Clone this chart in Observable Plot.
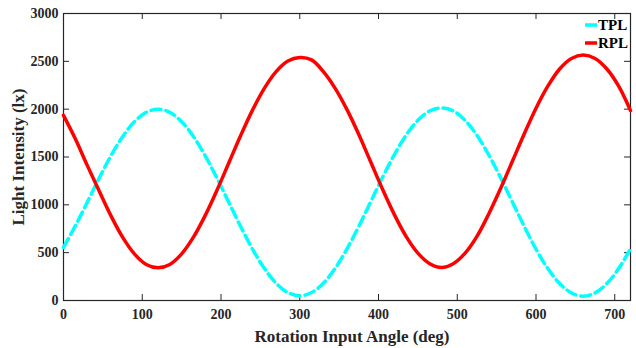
<!DOCTYPE html>
<html>
<head>
<meta charset="utf-8">
<script src="https://cdn.jsdelivr.net/npm/d3@7"></script>
<script src="https://cdn.jsdelivr.net/npm/@observablehq/plot@0.6"></script>
<style>
  body { margin: 0; background: #fff; }
  #chart svg { display: block; }
</style>
</head>
<body>
<div id="chart"></div>
<script>
const angles = [0,15,30,45,60,75,90,105,120,135,150,165,180,195,210,225,240,255,270,285,300,315,330,345,360,
  375,390,405,420,435,450,465,480,495,510,525,540,555,570,585,600,615,630,645,660,675,690,705,720];
const tpl = [555,780,1025,1275,1510,1712,1868,1966,2000,1967,1869,1714,1512,1277,1025,773,538,336,181,83,48,83,181,336,540,
  775,1030,1285,1522,1727,1883,1981,2012,1981,1883,1727,1522,1285,1030,775,537,334,177,79,45,79,177,334,540];
const rpl = [1935,1690,1415,1150,890,662,487,377,342,377,487,662,890,1155,1440,1725,1990,2218,2393,2503,2540,2515,2393,2218,1995,
  1735,1450,1165,900,670,495,385,345,385,495,670,905,1170,1455,1740,2010,2240,2420,2530,2565,2530,2420,2240,1985];
const xTicks = [0,100,200,300,400,500,600,700];
const yTicks = [0,500,1000,1500,2000,2500,3000];
const seriesNames = ["TPL", "RPL"];
const seriesColors = ["#00FFFF", "#FF0000"];

const tplData = angles.map((a, i) => ({angle: a, value: tpl[i]}));
const rplData = angles.map((a, i) => ({angle: a, value: rpl[i]}));

const W = 636, H = 348;
const mL = 63, mR = 6, mT = 13, mB = 48;
const pw = W - mL - mR, ph = H - mT - mB;
const tk = 6;
const font = "Liberation Serif, Times New Roman, serif";
const fmt = d3.format("d");

const chart = Plot.plot({
  width: W, height: H,
  marginLeft: mL, marginRight: mR, marginTop: mT, marginBottom: mB,
  style: {fontFamily: font, fontWeight: "bold", fontSize: "14px", color: "#262626", background: "#fff"},
  x: {domain: [0, 720]},
  y: {domain: [0, 3000]},
  marks: [
    Plot.axisX(xTicks, {tickSize: 0, tickPadding: 9, label: null, tickFormat: fmt, fontSize: 14, fontWeight: "bold"}),
    Plot.axisY(yTicks, {tickSize: 0, tickPadding: 5, label: null, tickFormat: fmt, fontSize: 14, fontWeight: "bold"}),
    Plot.tickX(xTicks, {x: d => d, insetTop: ph - tk, stroke: "#262626"}),
    Plot.tickX(xTicks, {x: d => d, insetBottom: ph - tk, stroke: "#262626"}),
    Plot.tickY(yTicks, {y: d => d, insetRight: pw - tk, stroke: "#262626"}),
    Plot.tickY(yTicks, {y: d => d, insetLeft: pw - tk, stroke: "#262626"}),
    Plot.frame({stroke: "#262626", strokeWidth: 1.2}),
    Plot.line(tplData, {x: "angle", y: "value", stroke: seriesColors[0], strokeWidth: 3.5, strokeDasharray: "10,5", curve: "catmull-rom"}),
    Plot.line(rplData, {x: "angle", y: "value", stroke: seriesColors[1], strokeWidth: 3.5, curve: "catmull-rom"}),
    Plot.text(["Rotation Input Angle (deg)"], {frameAnchor: "bottom", dy: 36, dx: 5, fontSize: 17, fontWeight: "bold", fill: "#262626", textAnchor: "middle", lineAnchor: "middle"}),
    Plot.text(["Light Intensity (lx)"], {frameAnchor: "left", dx: -45, rotate: -90, fontSize: 17, fontWeight: "bold", fill: "#262626", textAnchor: "middle", lineAnchor: "middle"})
  ]
});

document.getElementById("chart").appendChild(chart);

// legend (inside the axes, top-right)
const svg = d3.select(chart);
const lg = svg.append("g").attr("font-family", font).attr("font-weight", "bold")
  .attr("font-size", 15).attr("fill", "#000").attr("text-anchor", "start");
seriesNames.forEach((name, i) => {
  const yy = 25 + i * 18;
  lg.append("line").attr("x1", 585).attr("x2", 597).attr("y1", yy).attr("y2", yy)
    .attr("stroke", seriesColors[i]).attr("stroke-width", 3.5);
  lg.append("text").attr("x", 598).attr("y", yy).attr("dy", "0.35em").attr("text-anchor", "start").text(name);
});
</script>
</body>
</html>
